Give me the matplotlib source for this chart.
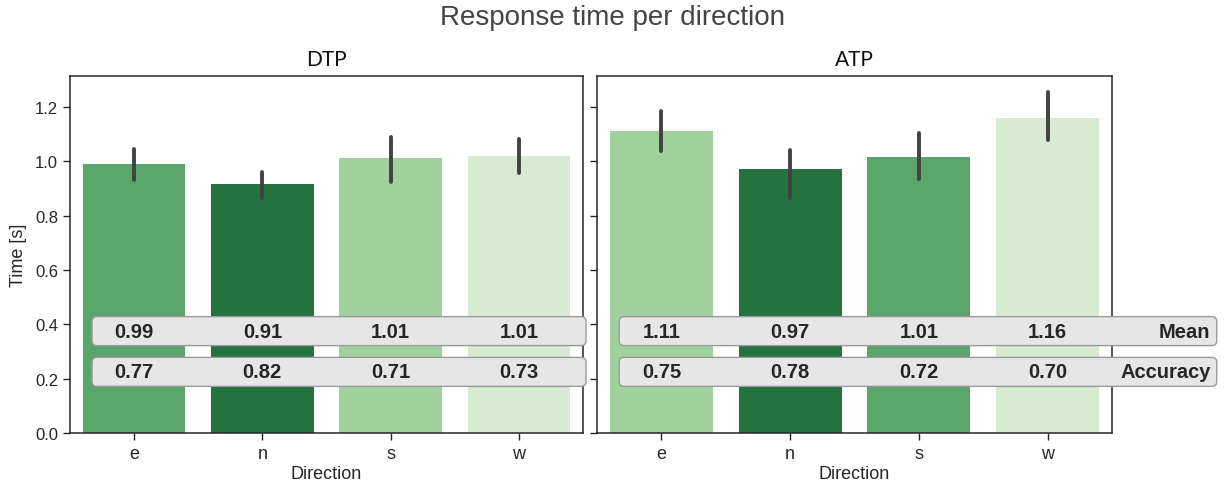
import matplotlib
matplotlib.use("Agg")
import matplotlib.pyplot as plt
from matplotlib.patches import FancyBboxPatch
from matplotlib.transforms import IdentityTransform, blended_transform_factory

directions = ["e", "n", "s", "w"]
panels = ["DTP", "ATP"]
dtp_mean = [0.99, 0.915, 1.012, 1.02]
dtp_lo = [0.93, 0.865, 0.925, 0.957]
dtp_hi = [1.045, 0.96, 1.09, 1.082]
atp_mean = [1.111, 0.972, 1.016, 1.159]
atp_lo = [1.038, 0.865, 0.935, 1.078]
atp_hi = [1.185, 1.042, 1.104, 1.255]
dtp_colors = ["#5aa56a", "#23723f", "#a0d09b", "#d6ebd1"]
atp_colors = ["#a0d09b", "#23723f", "#5aa56a", "#d6ebd1"]
dtp_mean_lbl = ["0.99", "0.91", "1.01", "1.01"]
dtp_acc_lbl = ["0.77", "0.82", "0.71", "0.73"]
atp_mean_lbl = ["1.11", "0.97", "1.01", "1.16"]
atp_acc_lbl = ["0.75", "0.78", "0.72", "0.70"]
row_labels = ["Mean", "Accuracy"]

plt.rcParams['font.family'] = ['Liberation Sans', 'DejaVu Sans']

DPI = 100
fig = plt.figure(figsize=(12.26, 4.89), dpi=DPI)
ax1 = fig.add_axes([0.0571, 0.1125, 0.4184, 0.730])
ax2 = fig.add_axes([0.487, 0.1125, 0.420, 0.730], sharey=ax1)

data = [
    (ax1, dtp_mean, dtp_lo, dtp_hi, dtp_colors, dtp_mean_lbl, dtp_acc_lbl, False),
    (ax2, atp_mean, atp_lo, atp_hi, atp_colors, atp_mean_lbl, atp_acc_lbl, True),
]

for i, (ax, m, lo, hi, cols, ml, al, show_rows) in enumerate(data):
    x = list(range(len(directions)))
    ax.bar(x, m, width=0.8, color=cols, zorder=1)
    for xi, l, h in zip(x, lo, hi):
        ax.plot([xi, xi], [l, h], color="#424242", lw=2.8, solid_capstyle="round", zorder=3)
    ax.set_xlim(-0.5, 3.5)
    ax.set_ylim(0, 1.314)
    ax.set_xticks(x)
    ax.set_xticklabels(directions)
    ax.set_xlabel("Direction", fontsize=13, color="#262626", labelpad=2)
    ax.set_title(panels[i], fontsize=15, family=["Lato", "DejaVu Sans"], pad=8, color="#111111")
    ax.tick_params(axis="x", labelsize=13, colors="#262626", length=5, width=1)
    ax.tick_params(axis="y", labelsize=12, colors="#262626", length=5, width=1)
    for sp in ax.spines.values():
        sp.set_color("#262626")
        sp.set_linewidth(1.1)
    if i == 0:
        ax.set_ylabel("Time [s]", fontsize=13, color="#262626", labelpad=6)
        ax.set_yticks([0, 0.2, 0.4, 0.6, 0.8, 1.0, 1.2])
    else:
        plt.setp(ax.get_yticklabels(), visible=False)

fig.canvas.draw()

for i, (ax, m, lo, hi, cols, ml, al, show_rows) in enumerate(data):
    x = list(range(len(directions)))
    x_right = 1.2035 if show_rows else 1.006
    trans = blended_transform_factory(ax.transAxes, ax.transData)
    for (yc, labels, rl) in [(0.375, ml, row_labels[0]), (0.225, al, row_labels[1])]:
        px0 = ax.transAxes.transform((0.043, 0))[0]
        px1 = ax.transAxes.transform((x_right, 0))[0]
        pyc = ax.transData.transform((0, yc))[1]
        h = 29.0
        r = 5.0
        box = FancyBboxPatch((px0 + r, pyc - h / 2 + r), (px1 - px0) - 2 * r, h - 2 * r,
                             boxstyle="round,pad=%g,rounding_size=%g" % (r, r),
                             transform=IdentityTransform(), facecolor="#e6e6e6",
                             edgecolor="#9a9a9a", lw=1.0, clip_on=False, zorder=5)
        ax.add_patch(box)
        for xi, t in zip(x, labels):
            ax.text(xi, yc, t, ha="center", va="center", fontsize=14.5,
                    fontweight="bold", color="#262626", zorder=6)
        if show_rows:
            ax.text(x_right - 0.012, yc, rl, transform=trans,
                    ha="right", va="center", fontsize=14.5, fontweight="bold",
                    color="#262626", zorder=6, clip_on=False)

fig.suptitle("Response time per direction", fontsize=20, color="#444444", y=0.99)

fig.savefig("out.png", dpi=DPI)
